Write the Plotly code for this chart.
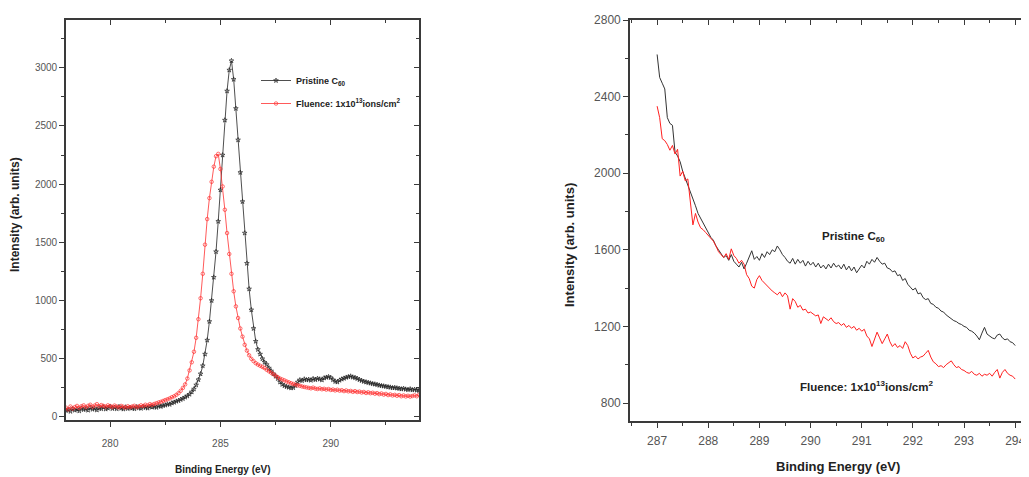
import plotly.graph_objects as go

# Reference canvas size; the browser adds an 8px body margin, so the figure is drawn
# 8px smaller and all pixel positions are shifted by that offset.
W, H = 1029, 477
OFF = 8
FW, FH = W - OFF, H - OFF

# ---------------- Left panel: C1s spectra (278-294 eV, 0.1 eV grid) ----------------
left_e_start, left_e_step, left_n = 278.0, 0.1, 161
left_energy = [round(left_e_start + left_e_step * i, 2) for i in range(left_n)]

left_pristine = [
    55, 62, 48, 70, 58, 66, 52, 75, 63, 70,
    58, 80, 66, 72, 60, 78, 70, 85, 68, 76,
    90, 72, 82, 70, 88, 75, 68, 84, 72, 80,
    76, 70, 86, 78, 74, 88, 80, 76, 90, 84,
    88, 82, 95, 90, 98, 102, 110, 108, 120, 126,
    135, 140, 150, 158, 170, 180, 195, 215, 240, 275,
    320, 370, 440, 540, 660, 820, 1000, 1200, 1420, 1680,
    1950, 2250, 2550, 2800, 2980, 3060, 2900, 2650, 2380, 2100,
    1850, 1580, 1320, 1100, 920, 760, 650, 580, 540, 500,
    470, 450, 420, 395, 370, 350, 330, 300, 280, 268,
    260, 255, 250, 252, 270, 300, 318, 312, 325, 318,
    322, 315, 328, 320, 330, 325, 318, 335, 340, 345,
    338, 320, 305, 300, 315, 325, 332, 340, 345, 350,
    342, 338, 330, 320, 312, 305, 300, 295, 290, 285,
    282, 278, 272, 268, 265, 262, 258, 255, 250, 252,
    248, 245, 240, 244, 238, 235, 240, 232, 236, 230, 228,
]

left_fluence = [
    80, 65, 90, 72, 85, 95, 78, 92, 100, 84,
    96, 105, 88, 98, 110, 92, 102, 95, 88, 100,
    94, 86, 98, 90, 82, 95, 88, 80, 92, 85,
    90, 96, 84, 92, 100, 94, 105, 98, 110, 104,
    112, 118, 125, 130, 138, 145, 152, 160, 170, 178,
    190, 205, 225, 250, 280, 330, 400, 470, 560, 680,
    840, 1020, 1230, 1480, 1700, 1880, 2020, 2150, 2240, 2260,
    2130, 1980, 1780, 1580, 1400, 1230, 1080, 950, 850, 760,
    690, 620, 570, 530, 500, 480, 462, 450, 440, 430,
    420, 405, 392, 380, 368, 355, 342, 330, 322, 315,
    305, 298, 290, 284, 278, 272, 268, 262, 258, 254,
    250, 246, 252, 244, 240, 246, 238, 242, 235, 240,
    232, 236, 228, 234, 226, 230, 222, 228, 220, 224,
    216, 222, 214, 218, 210, 215, 206, 212, 204, 208,
    200, 205, 196, 202, 192, 198, 188, 194, 185, 190,
    182, 188, 178, 185, 176, 182, 175, 180, 186, 178, 190,
]

# ---------------- Right panel: 287-294 eV, 0.05 eV grid ----------------
right_e_start, right_e_step, right_n = 287.0, 0.05, 141
right_energy = [round(right_e_start + right_e_step * i, 2) for i in range(right_n)]

right_pristine = [
    2620, 2500, 2470, 2440, 2290, 2260, 2250, 2110, 2090, 2060,
    2010, 1975, 1945, 1900, 1870, 1830, 1790, 1765, 1735, 1710,
    1690, 1665, 1650, 1620, 1600, 1580, 1560, 1570, 1545, 1575,
    1540, 1525, 1510, 1535, 1500, 1530, 1560, 1595, 1550, 1565,
    1545, 1580, 1560, 1590, 1575, 1600, 1590, 1620, 1600, 1575,
    1560, 1540, 1530, 1555, 1525, 1550, 1530, 1545, 1515, 1540,
    1520, 1535, 1510, 1530, 1505, 1520, 1500, 1525, 1505, 1530,
    1510, 1520, 1500, 1525, 1495, 1515, 1490, 1510, 1480, 1500,
    1520, 1505, 1540, 1525, 1550, 1535, 1560, 1540, 1525, 1530,
    1505, 1500, 1485, 1490, 1465, 1470, 1440, 1450, 1420, 1405,
    1390, 1400, 1370, 1375, 1350, 1340, 1345, 1320, 1315, 1300,
    1295, 1280, 1275, 1260, 1250, 1240, 1230, 1225, 1215, 1210,
    1200, 1195, 1180, 1175, 1165, 1150, 1130, 1165, 1195, 1160,
    1150, 1140, 1135, 1155, 1160, 1140, 1130, 1135, 1120, 1115, 1100,
]

right_fluence = [
    2350, 2290, 2180, 2170, 2150, 2120, 2145, 2100, 2125, 1985,
    2010, 1960, 1970, 1860, 1730, 1790, 1745, 1715, 1705, 1690,
    1675, 1660, 1645, 1620, 1590, 1575, 1560, 1580, 1550, 1605,
    1570, 1555, 1530, 1545, 1525, 1470, 1450, 1410, 1400, 1445,
    1465, 1440, 1425, 1410, 1400, 1385, 1375, 1365, 1380, 1355,
    1375, 1360, 1290, 1345, 1330, 1300, 1310, 1285, 1290, 1270,
    1275, 1265, 1255, 1260, 1215, 1250, 1240, 1230, 1245, 1225,
    1215, 1220, 1205, 1215, 1195, 1205, 1190, 1200, 1180, 1190,
    1175, 1185, 1150, 1135, 1095, 1130, 1170, 1140, 1110, 1135,
    1160, 1120, 1095, 1110, 1090, 1100, 1085, 1120, 1100, 1060,
    1035, 1045, 1030, 1040, 1045, 1060, 1075, 1040, 1015, 1005,
    990, 995, 985, 1000, 1010, 1020, 1000, 985, 990, 975,
    970, 960, 955, 965, 950, 945, 955, 940, 950, 945,
    955, 940, 960, 975, 930, 960, 975, 955, 945, 940, 925,
]

label_pristine = "Pristine C<sub>60</sub>"
label_fluence = "Fluence: 1x10<sup>13</sup>ions/cm<sup>2</sup>"
x_title = "Binding Energy (eV)"
y_title = "Intensity (arb. units)"


def px(x):
    return (x - OFF) / FW


def py(y):
    return 1 - (y - OFF) / FH


FONT = "Liberation Sans, Arial, sans-serif"
AX = "#3a3a3a"

fig = go.Figure()

fig.add_trace(go.Scatter(
    x=left_energy, y=left_pristine, mode="lines+markers", name=label_pristine,
    line=dict(color="#222222", width=0.8),
    marker=dict(symbol="star-open", size=3.5, color="#222222", line=dict(width=0.7)),
    xaxis="x", yaxis="y", legendgroup="a",
))
fig.add_trace(go.Scatter(
    x=left_energy, y=left_fluence, mode="lines+markers", name=label_fluence,
    line=dict(color="#ff3030", width=0.8),
    marker=dict(symbol="circle-open", size=3.5, color="#ff3030", line=dict(width=0.7)),
    xaxis="x", yaxis="y", legendgroup="b",
))
fig.add_trace(go.Scatter(
    x=right_energy, y=right_pristine, mode="lines", showlegend=False,
    line=dict(color="#333333", width=1), xaxis="x2", yaxis="y2",
))
fig.add_trace(go.Scatter(
    x=right_energy, y=right_fluence, mode="lines", showlegend=False,
    line=dict(color="#ff2020", width=1), xaxis="x2", yaxis="y2",
))
# invisible copies that bind the mirrored frame axes (top / right) so they get drawn
for xa, ya, xs, ys in (("x3", "y", left_energy, left_pristine),
                       ("x", "y3", left_energy, left_pristine),
                       ("x4", "y2", right_energy, right_pristine)):
    fig.add_trace(go.Scatter(x=xs, y=ys, mode="lines", opacity=0, showlegend=False,
                             hoverinfo="skip", xaxis=xa, yaxis=ya,
                             line=dict(width=0)))

common = dict(showgrid=False, zeroline=False, showline=True, linecolor=AX,
              linewidth=1.6, tickcolor=AX, tickwidth=1.2, automargin=False)

L_X = [278, 294]
L_Y = [-26, 3410]
R_X = [286.47, 294.27]
R_Y = [706, 2800]

fig.update_layout(
    width=FW, height=FH, margin=dict(l=0, r=0, t=0, b=0, pad=0, autoexpand=False),
    paper_bgcolor="white", plot_bgcolor="white",
    font=dict(family=FONT, color="#333333"),
    xaxis=dict(domain=[px(66), px(419)], range=L_X, anchor="y", ticks="outside",
               ticklen=5, tick0=280, dtick=5, ticklabelstandoff=8,
               minor=dict(ticks="outside", ticklen=3, dtick=2.5, tickcolor=AX),
               tickfont=dict(size=10, color="#555555"), **common),
    yaxis=dict(domain=[py(420), py(20)], range=L_Y, anchor="x", ticks="outside",
               ticklen=5, tick0=0, dtick=500,
               minor=dict(ticks="outside", ticklen=3, dtick=250, tickcolor=AX),
               tickfont=dict(size=10, color="#555555"), **common),
    xaxis3=dict(overlaying="x", side="top", anchor="y", range=L_X, ticks="inside",
                ticklen=5, tick0=280, dtick=5, showticklabels=False,
                minor=dict(ticks="inside", ticklen=3, dtick=2.5, tickcolor=AX), **common),
    yaxis3=dict(overlaying="y", side="right", anchor="x", range=L_Y, ticks="inside",
                ticklen=5, tick0=0, dtick=500, showticklabels=False,
                minor=dict(ticks="inside", ticklen=3, dtick=250, tickcolor=AX), **common),
    xaxis2=dict(domain=[px(630), 1.0], range=R_X, anchor="y2", ticks="outside",
                ticklen=5, tick0=287, dtick=1, ticklabelstandoff=3,
                minor=dict(ticks="outside", ticklen=3, dtick=0.5, tickcolor=AX),
                tickfont=dict(size=12, color="#555555"), **common),
    yaxis2=dict(domain=[py(421), py(20)], range=R_Y, anchor="x2", ticks="outside",
                ticklen=5, tick0=800, dtick=400,
                minor=dict(ticks="outside", ticklen=3, dtick=200, tickcolor=AX),
                tickfont=dict(size=12, color="#555555"), **common),
    xaxis4=dict(overlaying="x2", side="top", anchor="y2", range=R_X, ticks="inside",
                ticklen=5, tick0=287, dtick=1, showticklabels=False,
                minor=dict(ticks="inside", ticklen=3, dtick=0.5, tickcolor=AX), **common),
    legend=dict(x=px(256), y=py(66), xanchor="left", yanchor="top",
                bgcolor="rgba(0,0,0,0)", font=dict(size=9, color="#222222", weight="bold"),
                itemwidth=30, traceorder="grouped", tracegroupgap=4),
    showlegend=True,
)

ann_font = dict(family=FONT, color="#222222", weight="bold")


def note(text, x, y, size, angle=0):
    fig.add_annotation(text=text, x=px(x), y=py(y), xref="paper", yref="paper",
                       xanchor="center", yanchor="middle", textangle=angle,
                       showarrow=False, font=dict(size=size, **ann_font))


note(y_title, 15, 215, 12, -90)
note(x_title, 223, 469, 10)
note(y_title, 570, 245, 13, -90)
note(x_title, 838, 466, 13)
note(label_pristine, 853, 237, 11.5)
note(label_fluence, 867, 386, 11.5)

fig.write_html("out.html")
